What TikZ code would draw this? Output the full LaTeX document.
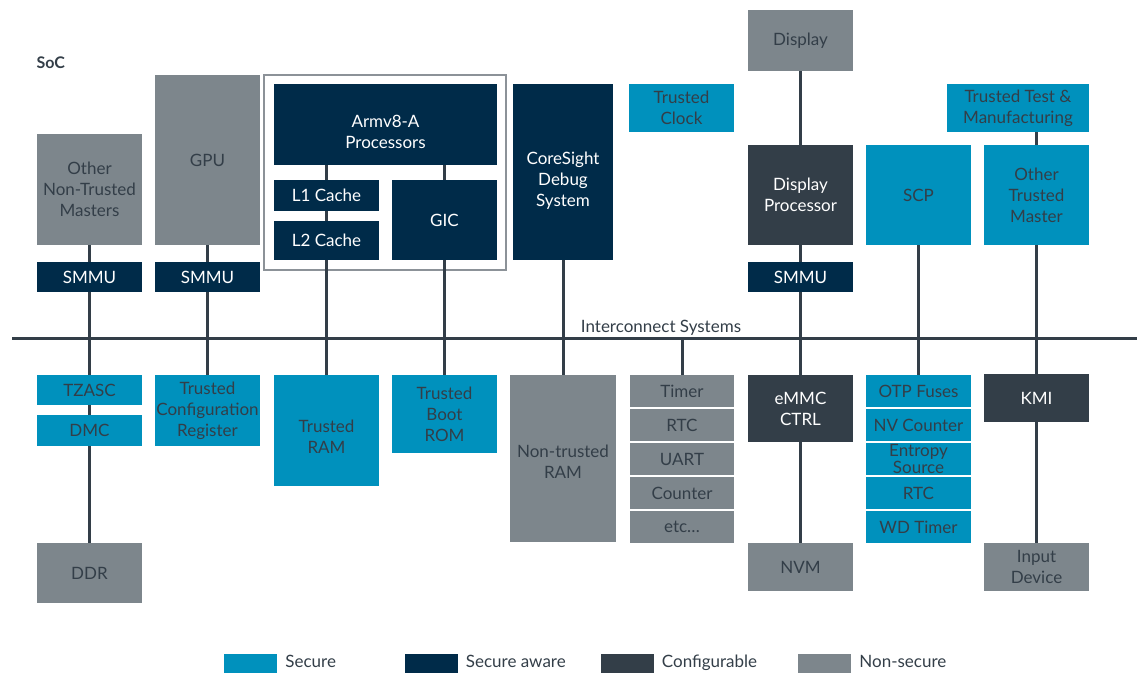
\documentclass[tikz,border=0pt]{standalone}
\usepackage{fontspec}
\setmainfont{Lato}
\usetikzlibrary{positioning}
\definecolor{secure}{HTML}{0091BD}
\definecolor{saware}{HTML}{002B49}
\definecolor{config}{HTML}{333E48}
\definecolor{nonsec}{HTML}{7D868C}
\definecolor{txtdark}{HTML}{333E48}
\definecolor{framegray}{HTML}{8C9298}
\newcommand{\dnsp}[1]{\rule{0pt}{#1}}
\tikzset{
  blk/.style={inner sep=0pt, align=center, minimum width=105pt, font=\fontsize{17}{21}\selectfont},
  sec/.style={blk, fill=secure, text=txtdark},
  saw/.style={blk, fill=saware, text=white},
  cfg/.style={blk, fill=config, text=white},
  nsec/.style={blk, fill=nonsec, text=txtdark},
  stk/.style={minimum height=32pt, font=\fontsize{17}{17}\selectfont},
  link/.style={draw=txtdark, line width=3pt},
  lgtxt/.style={font=\fontsize{17}{20}\selectfont, text=txtdark, inner sep=0pt, text height=12pt, text depth=4pt},
}
\begin{document}
\begin{tikzpicture}[x=1pt,y=-1pt]
        \useasboundingbox (0,0) rectangle (1137,675);
        %标题
        \node[anchor=west, font=\fontsize{16}{19}\selectfont\bfseries, text=txtdark] (soc) at (33,63) {SoC};
        %处理器外框
        \draw[framegray, line width=1.2pt] (264,75) rectangle (506,270);
        %上方主设备
        \node[nsec, minimum height=111pt] (othnt) at (89.5,189.5) {Other\\Non-Trusted\\Masters};
        \node[nsec, minimum height=170pt] (gpu) at (207.5,160) {GPU};
        \node[saw, minimum height=30pt] (smmua) at (89.5,277) {SMMU};
        \node[saw, minimum height=30pt] (smmub) at (207.5,277) {SMMU};
        \node[saw, minimum width=223pt, minimum height=81pt] (arm) at (385.5,124.5) {\dnsp{28pt}Armv8-A\\Processors};
        \node[saw, minimum height=31pt] (lone) at (326.5,195.5) {L1 Cache};
        \node[saw, minimum height=39pt] (ltwo) at (326.5,240.5) {L2 Cache};
        \node[saw, minimum height=80pt] (gic) at (444.5,220) {GIC};
        \node[saw, minimum width=100pt, minimum height=176pt] (cs) at (563,172) {\dnsp{30pt}CoreSight\\Debug\\System};
        \node[sec, minimum height=48pt] (tclk) at (681.5,108) {Trusted\\Clock};
        \node[nsec, minimum height=61pt] (disp) at (800.5,40.5) {Display};
        \node[cfg, minimum height=100pt] (dproc) at (800.5,195) {Display\\Processor};
        \node[saw, minimum height=30pt] (smmuc) at (800.5,277) {SMMU};
        \node[sec, minimum height=100pt] (scp) at (918.5,195) {SCP};
        \node[sec, minimum width=142pt, minimum height=48pt] (ttm) at (1018,108) {Trusted Test \&\\Manufacturing};
        \node[sec, minimum height=100pt] (otm) at (1036.5,195) {Other\\Trusted\\Master};
        %总线
        \coordinate (busl) at (12,338);
        \coordinate (busr) at (1137,338);
        \draw[link] (busl) -- (busr);
        \node[lgtxt] (ics) at (661,328) {Interconnect Systems};
        %下方从设备
        \node[sec, minimum height=30pt] (tzasc) at (89.5,390) {TZASC};
        \node[sec, minimum height=31pt] (dmc) at (89.5,430.5) {DMC};
        \node[nsec, minimum height=60pt] (ddr) at (89.5,573) {DDR};
        \node[sec, minimum height=71pt] (tcr) at (207.5,410.5) {Trusted\\Configuration\\Register};
        \node[sec, minimum height=111pt] (tram) at (326.5,430.5) {\dnsp{24pt}Trusted\\RAM};
        \node[sec, minimum height=78pt] (tbrom) at (444.5,414) {Trusted\\Boot\\ROM};
        \node[nsec, minimum width=106pt, minimum height=167pt] (ntram) at (563,458.5) {\dnsp{18pt}Non-trusted\\RAM};
        \foreach \t [count=\i] in {Timer,RTC,UART,Counter,etc\ldots}
            \node[nsec, stk, minimum width=104pt] (per\i) at (682,357+34*\i) {\t};
        \node[cfg, minimum height=67pt] (emmc) at (800.5,408.5) {eMMC\\CTRL};
        \node[nsec, minimum height=48pt] (nvm) at (800.5,567) {NVM};
        \foreach \t [count=\i] in {OTP Fuses,NV Counter,{Entropy\\Source},RTC,WD Timer}
            \node[sec, stk] (sf\i) at (918.5,357+34*\i) {\t};
        \node[cfg, minimum height=48pt] (kmi) at (1036.5,398) {KMI};
        \node[nsec, minimum height=48pt] (indev) at (1036.5,567) {Input\\Device};
        %连线
        \draw[link] (othnt) -- (smmua);
        \draw[link] (smmua) -- (tzasc);
        \draw[link] (tzasc) -- (dmc);
        \draw[link] (dmc) -- (ddr);
        \draw[link] (gpu) -- (smmub);
        \draw[link] (smmub) -- (tcr);
        \draw[link] (lone.north) -- (lone.north |- arm.south);
        \draw[link] (lone) -- (ltwo);
        \draw[link] (ltwo) -- (tram);
        \draw[link] (gic.north) -- (gic.north |- arm.south);
        \draw[link] (gic) -- (tbrom);
        \draw[link] (cs) -- (ntram);
        \draw[link] (per1.north) -- (per1.north |- busl);
        \draw[link] (disp) -- (dproc);
        \draw[link] (dproc) -- (smmuc);
        \draw[link] (smmuc) -- (emmc);
        \draw[link] (emmc) -- (nvm);
        \draw[link] (scp) -- (sf1);
        \draw[link] (otm.north) -- (otm.north |- ttm.south);
        \draw[link] (otm) -- (kmi);
        \draw[link] (kmi) -- (indev);
        %图例
        \foreach \c/\t/\x in {secure/Secure/250.5,saware/Secure aware/431,config/Configurable/627,nonsec/Non-secure/824.5}
        {
            \node[fill=\c, minimum width=53pt, minimum height=19pt, inner sep=0pt] (lg\c) at (\x,663.5) {};
            \node[lgtxt, right=8pt of lg\c] (lt\c) {\t};
        };
\end{tikzpicture}
\end{document}
